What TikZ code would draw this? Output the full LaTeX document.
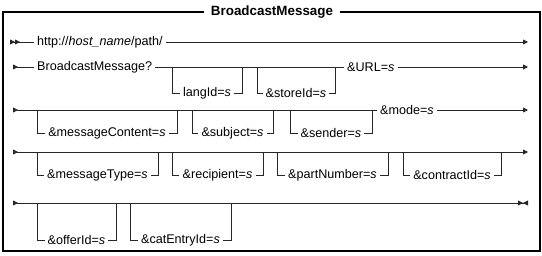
\documentclass[tikz,border=0pt]{standalone}
\usepackage{fontspec}
\setmainfont{Liberation Sans}
\usetikzlibrary{arrows.meta}

\begin{document}
\begin{tikzpicture}[
  x=1pt, y=-1pt,
  every node/.style={font=\fontsize{12.6}{15}\selectfont},
  item/.style={inner xsep=3pt, inner ysep=1pt},
  line/.style={draw=black!85, line width=0.8pt},
  begin/.style={line, {Triangle[reversed,length=5pt,width=5pt]}-},
  begin2/.style={line, {Triangle[reversed,length=5pt,width=5pt,sep=0pt]Triangle[reversed,length=5pt,width=5pt]}-},
  go/.style={line, -{Triangle[length=5pt,width=5pt]}},
  through/.style={line, {Triangle[reversed,length=5pt,width=5pt]}-{Triangle[length=5pt,width=5pt]}},
  stop/.style={line, {Triangle[reversed,length=5pt,width=5pt]}-{Triangle[length=5pt,width=5pt,sep=0pt]Triangle[reversed,length=5pt,width=5pt]}}
]
\useasboundingbox (0,0) rectangle (542,255);
\draw[line width=1.6pt] (3,12) rectangle (540,251);
\node[font=\fontsize{13.4}{16}\selectfont\bfseries, fill=white, inner xsep=7pt] (title) at (272,12) {BroadcastMessage};

% row 1
\coordinate (start1) at (10,42);
\coordinate (end1) at (528,42);
\node[item, anchor=west] (http) at (34,42) {http://\textit{host\_name}/path/};
\draw[begin2] (start1) -- (http);
\draw[go] (http) -- (end1);

% row 2
\coordinate (start2) at (13,67);
\coordinate (end2) at (528,67);
\node[item, anchor=west] (bm) at (34,67) {BroadcastMessage?};
\node[item, anchor=west] (url) at (344,67) {\&URL=\textit{s}};
\draw[begin] (start2) -- (bm);
\draw[line] (bm) -- (url);
\draw[go] (url) -- (end2);
\coordinate (lang a) at (172,67);
\coordinate (lang b) at (242,67);
\node[item] (lang) at (207,93) {langId=\textit{s}};
\draw[line] (lang a) |- (lang);
\draw[line] (lang) -| (lang b);
\coordinate (store a) at (257,67);
\coordinate (store b) at (335,67);
\node[item] (store) at (296,93) {\&storeId=\textit{s}};
\draw[line] (store a) |- (store);
\draw[line] (store) -| (store b);

% row 3
\coordinate (start3) at (13,110);
\coordinate (end3) at (528,110);
\node[item, anchor=west] (mode) at (377,110) {\&mode=\textit{s}};
\draw[begin] (start3) -- (mode);
\draw[go] (mode) -- (end3);
\coordinate (content a) at (37,110);
\coordinate (content b) at (177,110);
\node[item] (content) at (107,133) {\&messageContent=\textit{s}};
\draw[line] (content a) |- (content);
\draw[line] (content) -| (content b);
\coordinate (subject a) at (192,110);
\coordinate (subject b) at (273,110);
\node[item] (subject) at (232.5,133) {\&subject=\textit{s}};
\draw[line] (subject a) |- (subject);
\draw[line] (subject) -| (subject b);
\coordinate (sender a) at (290,110);
\coordinate (sender b) at (372,110);
\node[item] (sender) at (331,133) {\&sender=\textit{s}};
\draw[line] (sender a) |- (sender);
\draw[line] (sender) -| (sender b);

% row 4
\coordinate (start4) at (13,152);
\coordinate (end4) at (528,152);
\draw[through] (start4) -- (end4);
\coordinate (type a) at (37,152);
\coordinate (type b) at (158,152);
\node[item] (type) at (97.5,175) {\&messageType=\textit{s}};
\draw[line] (type a) |- (type);
\draw[line] (type) -| (type b);
\coordinate (recipient a) at (172,152);
\coordinate (recipient b) at (263,152);
\node[item] (recipient) at (217.5,175) {\&recipient=\textit{s}};
\draw[line] (recipient a) |- (recipient);
\draw[line] (recipient) -| (recipient b);
\coordinate (part a) at (277,152);
\coordinate (part b) at (388,152);
\node[item] (part) at (332.5,175) {\&partNumber=\textit{s}};
\draw[line] (part a) |- (part);
\draw[line] (part) -| (part b);
\coordinate (contract a) at (403,152);
\coordinate (contract b) at (501,152);
\node[item] (contract) at (452,175) {\&contractId=\textit{s}};
\draw[line] (contract a) |- (contract);
\draw[line] (contract) -| (contract b);

% row 5
\coordinate (start5) at (13,203);
\coordinate (end5) at (528,203);
\draw[stop] (start5) -- (end5);
\coordinate (offer a) at (37,203);
\coordinate (offer b) at (116,203);
\node[item] (offer) at (76.5,240) {\&offerId=\textit{s}};
\draw[line] (offer a) |- (offer);
\draw[line] (offer) -| (offer b);
\coordinate (cat a) at (130,203);
\coordinate (cat b) at (231,203);
\node[item] (cat) at (180.5,240) {\&catEntryId=\textit{s}};
\draw[line] (cat a) |- (cat);
\draw[line] (cat) -| (cat b);
\end{tikzpicture}
\end{document}
